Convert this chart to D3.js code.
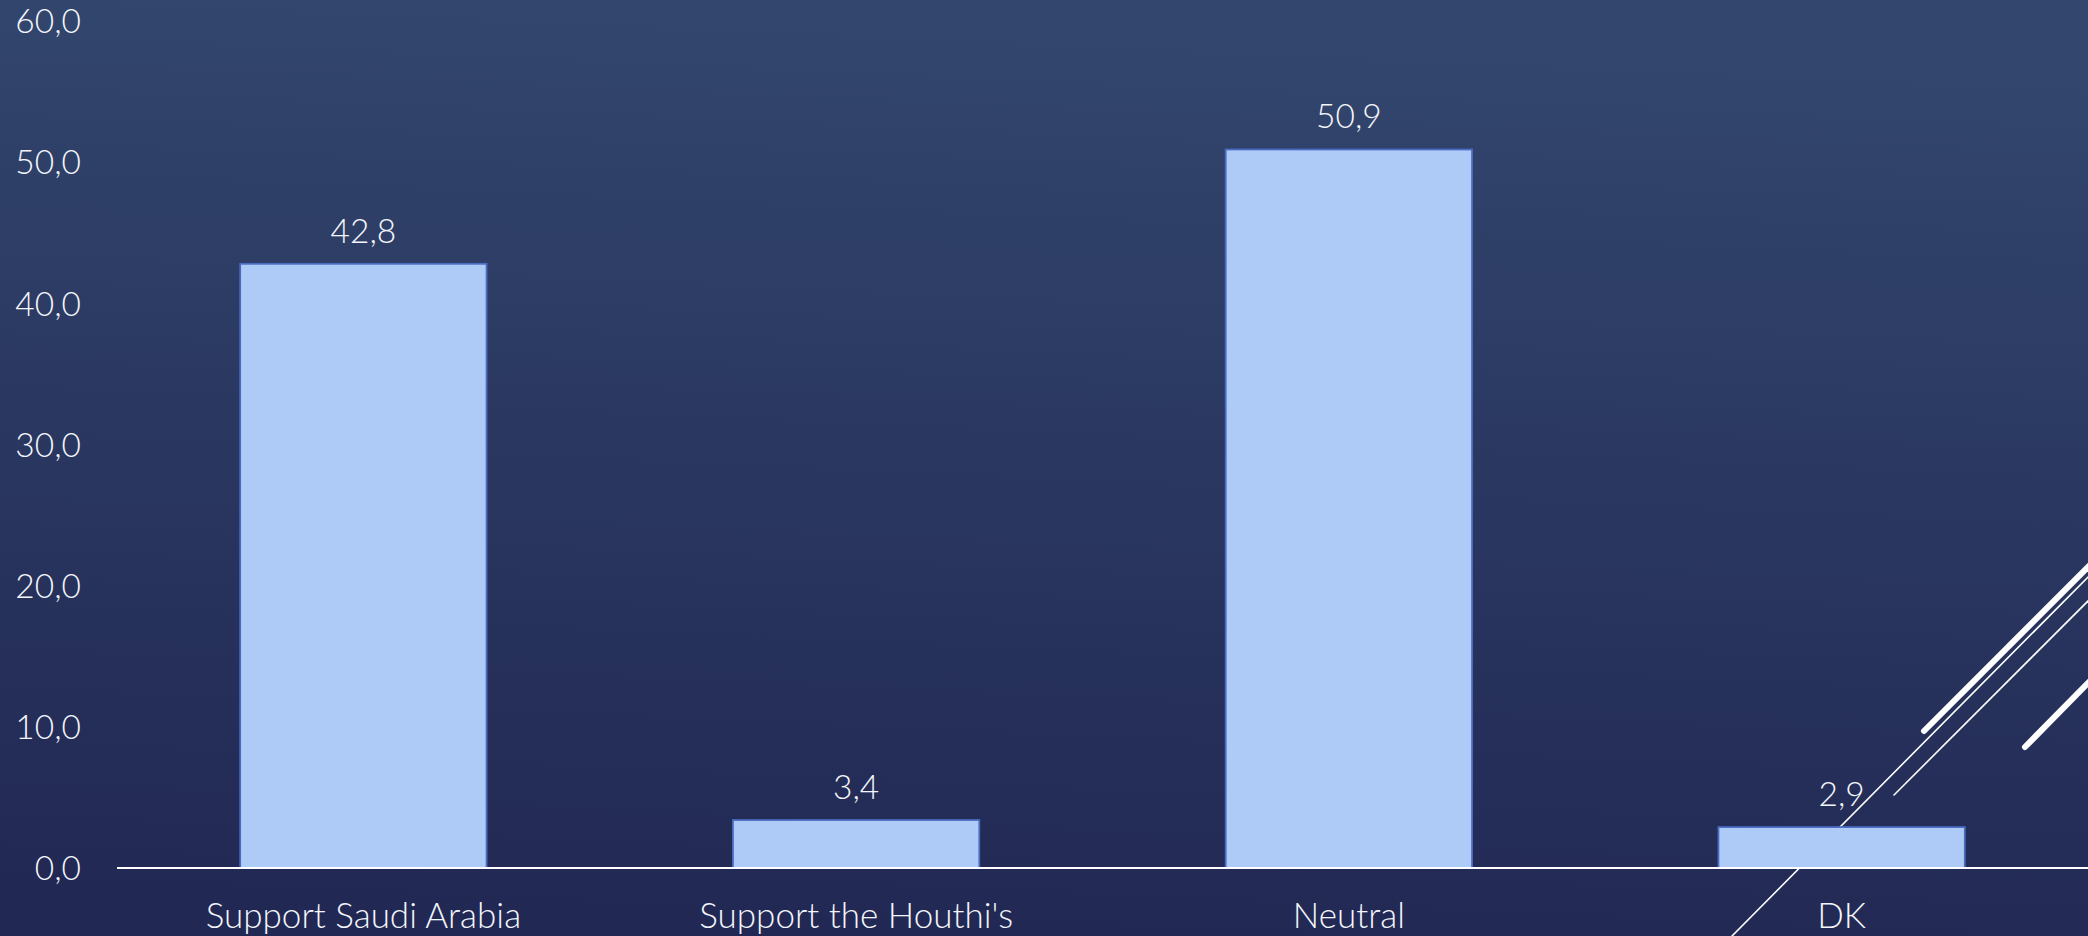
<!DOCTYPE html>
<html><head><meta charset="utf-8">
<script src="https://cdn.jsdelivr.net/npm/d3@7"></script>
<style>
html,body{margin:0;padding:0;overflow:hidden;background:#2a3761;}
svg{display:block;}
text{font-family:"Lato","Open Sans",sans-serif;font-weight:300;fill:#f4f6fb;}
</style></head>
<body>
<svg id="chart" width="2088" height="936"></svg>
<script>
const categories = ["Support Saudi Arabia", "Support the Houthi's", "Neutral", "DK"];
const values = [42.8, 3.4, 50.9, 2.9];
const yTicks = [0, 10, 20, 30, 40, 50, 60];

const W = 2088, H = 936;
const svg = d3.select("#chart");
const defs = svg.append("defs");
const grad = defs.append("linearGradient").attr("id","bg")
  .attr("x1","0.55").attr("y1","0").attr("x2","0.45").attr("y2","1");
grad.append("stop").attr("offset","0").attr("stop-color","#33476e");
grad.append("stop").attr("offset","1").attr("stop-color","#212853");
svg.append("rect").attr("width",W).attr("height",H).attr("fill","url(#bg)");

const fmt = v => d3.format(".1f")(v).replace(".", ",");

const x = d3.scaleBand().domain(categories).range([117, 2088])
  .paddingInner(0.5).paddingOuter(0.25);
const y = d3.scaleLinear().domain([0, 60]).range([868, 21]);

// decorative template strokes (behind chart)
const deco = svg.append("g").attr("stroke","#ffffff").attr("fill","none").attr("stroke-linecap","round");
deco.append("line").attr("x1",1732).attr("y1",936).attr("x2",2092).attr("y2",573).attr("stroke-width",1.6);
deco.append("line").attr("x1",1894).attr("y1",795).attr("x2",2092).attr("y2",597).attr("stroke-width",1.6);
deco.append("line").attr("x1",1924).attr("y1",731).attr("x2",2092).attr("y2",563).attr("stroke-width",6);
deco.append("line").attr("x1",2025).attr("y1",747).attr("x2",2092).attr("y2",679).attr("stroke-width",6);

// y axis labels
const yAxis = d3.axisLeft(y).tickValues(yTicks).tickFormat(fmt).tickSize(0).tickPadding(0);
const gy = svg.append("g").attr("transform","translate(81,0)").call(yAxis);
gy.select(".domain").remove();
gy.selectAll("text").attr("font-size",33.5).attr("font-family",null).attr("fill","#f4f6fb").attr("dy","0.35em");

// bars
svg.append("g").selectAll("rect").data(values).join("rect")
  .attr("x",(d,i)=>x(categories[i]))
  .attr("y",d=>y(d))
  .attr("width",x.bandwidth())
  .attr("height",d=>y(0)-y(d))
  .attr("fill","#aecbf7")
  .attr("stroke","#4a6bc0")
  .attr("stroke-width",1.8);

// x axis
const xAxis = d3.axisBottom(x).tickSize(0).tickPadding(0);
const gx = svg.append("g").attr("transform",`translate(0,${y(0)})`).call(xAxis);
gx.select(".domain").attr("stroke","#ffffff").attr("stroke-width",2.2).attr("d","M117,0H2088");
gx.selectAll("text").attr("font-size",35).attr("font-family",null).attr("fill","#f4f6fb").attr("dy",null).attr("y",60);

// value labels
svg.append("g").selectAll("text").data(values).join("text")
  .attr("x",(d,i)=>x(categories[i])+x.bandwidth()/2)
  .attr("y",d=>y(d)-21)
  .attr("text-anchor","middle")
  .attr("font-size",33.5)
  .text(d=>fmt(d));
</script>
</body></html>
